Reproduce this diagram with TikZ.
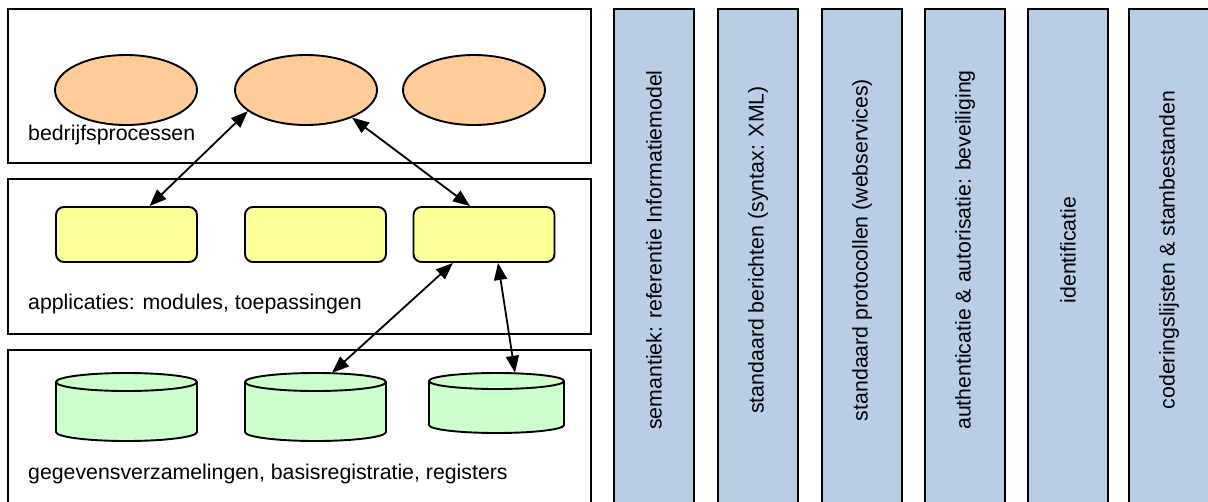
\documentclass[tikz,border=0pt]{standalone}
\usepackage{fontspec}
\setmainfont{Liberation Sans}
\usetikzlibrary{shapes.geometric,arrows.meta}
\definecolor{procfill}{HTML}{FFCC99}
\definecolor{appfill}{HTML}{FFFF99}
\definecolor{dbfill}{HTML}{CCFFCC}
\definecolor{barfill}{HTML}{B9CDE5}
\tikzset{
  layerbox/.style={draw=black, line width=1.9pt},
  proc/.style={ellipse, draw=black, fill=procfill, line width=1.9pt, minimum width=142pt, minimum height=70pt, inner sep=0pt},
  app/.style={rectangle, rounded corners=8pt, draw=black, fill=appfill, line width=1.9pt, minimum width=141pt, minimum height=55pt, inner sep=0pt},
  dbline/.style={draw=black, fill=dbfill, line width=1.9pt},
  dbanchor/.style={rectangle, inner sep=0pt},
  lbl/.style={anchor=base west, inner sep=0pt, font=\fontsize{21.3}{25}\selectfont},
  barrect/.style={draw=black, fill=barfill, line width=1.9pt},
  bartext/.style={rotate=90, inner sep=0pt, font=\fontsize{21.3}{25}\selectfont},
  link/.style={line width=1.8pt, {Triangle[length=17pt,width=13pt]}-{Triangle[length=17pt,width=13pt]}}
}
\begin{document}
\begin{tikzpicture}[x=1pt,y=-1pt]
\useasboundingbox (0,0) rectangle (1208,501);
\clip (0,0) rectangle (1208,501);
% layer boxes
\draw[layerbox] (8,9) rectangle (591,163);
\draw[layerbox] (8,179) rectangle (591,334);
\draw[layerbox] (8,350) rectangle (591,530);
% process ellipses
\node[proc] (e1) at (126,90) {};
\node[proc] (e2) at (306,90) {};
\node[proc] (e3) at (474,90) {};
\node[lbl] (l1) at (28,140) {bedrijfsprocessen};
% applications
\node[app] (r1) at (126.5,234.5) {};
\node[app] (r2) at (315.5,234.5) {};
\node[app] (r3) at (484,234.5) {};
\node[lbl] (l2) at (28,309) {applicaties: modules, toepassingen};
% databases
\path[dbline] (56,382) -- (56,432) arc[start angle=180,end angle=360,x radius=70.5pt,y radius=9pt] -- (197,382) arc[start angle=0,end angle=180,x radius=70.5pt,y radius=9pt] -- cycle;
\draw[line width=1.9pt] (56,382) arc[start angle=180,end angle=360,x radius=70.5pt,y radius=9pt];
\node[dbanchor, minimum width=141pt, minimum height=68pt] (c1) at (126.5,407) {};
\path[dbline] (245,382) -- (245,432) arc[start angle=180,end angle=360,x radius=70.5pt,y radius=9pt] -- (386,382) arc[start angle=0,end angle=180,x radius=70.5pt,y radius=9pt] -- cycle;
\draw[line width=1.9pt] (245,382) arc[start angle=180,end angle=360,x radius=70.5pt,y radius=9pt];
\node[dbanchor, minimum width=141pt, minimum height=68pt] (c2) at (315.5,407) {};
\path[dbline] (429,381) -- (429,425) arc[start angle=180,end angle=360,x radius=67.5pt,y radius=8pt] -- (564,381) arc[start angle=0,end angle=180,x radius=67.5pt,y radius=8pt] -- cycle;
\draw[line width=1.9pt] (429,381) arc[start angle=180,end angle=360,x radius=67.5pt,y radius=8pt];
\node[dbanchor, minimum width=135pt, minimum height=60pt] (c3) at (496.5,403) {};
\node[lbl] (l3) at (28,479) {gegevensverzamelingen, basisregistratie, registers};
% connectors
\draw[link] (e2.200) -- ([xshift=23pt]r1.north);
\draw[link] (e2.329) -- ([xshift=-14pt]r3.north);
\draw[link] ([xshift=-31pt]r3.south) -- ([xshift=16.5pt]c2.north);
\draw[link] ([xshift=14pt]r3.south) -- ([xshift=18.5pt]c3.north);
% vertical standards bars
\draw[barrect] (614,9) rectangle (694,530);
\draw[barrect] (718,9) rectangle (798,530);
\draw[barrect] (822,9) rectangle (902,530);
\draw[barrect] (925,9) rectangle (1005,530);
\draw[barrect] (1028,9) rectangle (1108,530);
\draw[barrect] (1129,9) rectangle (1209,530);
\node[bartext] (b1) at (654,250) {semantiek: referentie Informatiemodel};
\node[bartext] (b2) at (758,250) {standaard berichten (syntax: XML)};
\node[bartext] (b3) at (862,250) {standaard protocollen (webservices)};
\node[bartext] (b4) at (965,250) {authenticatie \& autorisatie: beveiliging};
\node[bartext] (b5) at (1068,250) {identificatie};
\node[bartext] (b6) at (1169,250) {coderingslijsten \& stambestanden};
\end{tikzpicture}
\end{document}
